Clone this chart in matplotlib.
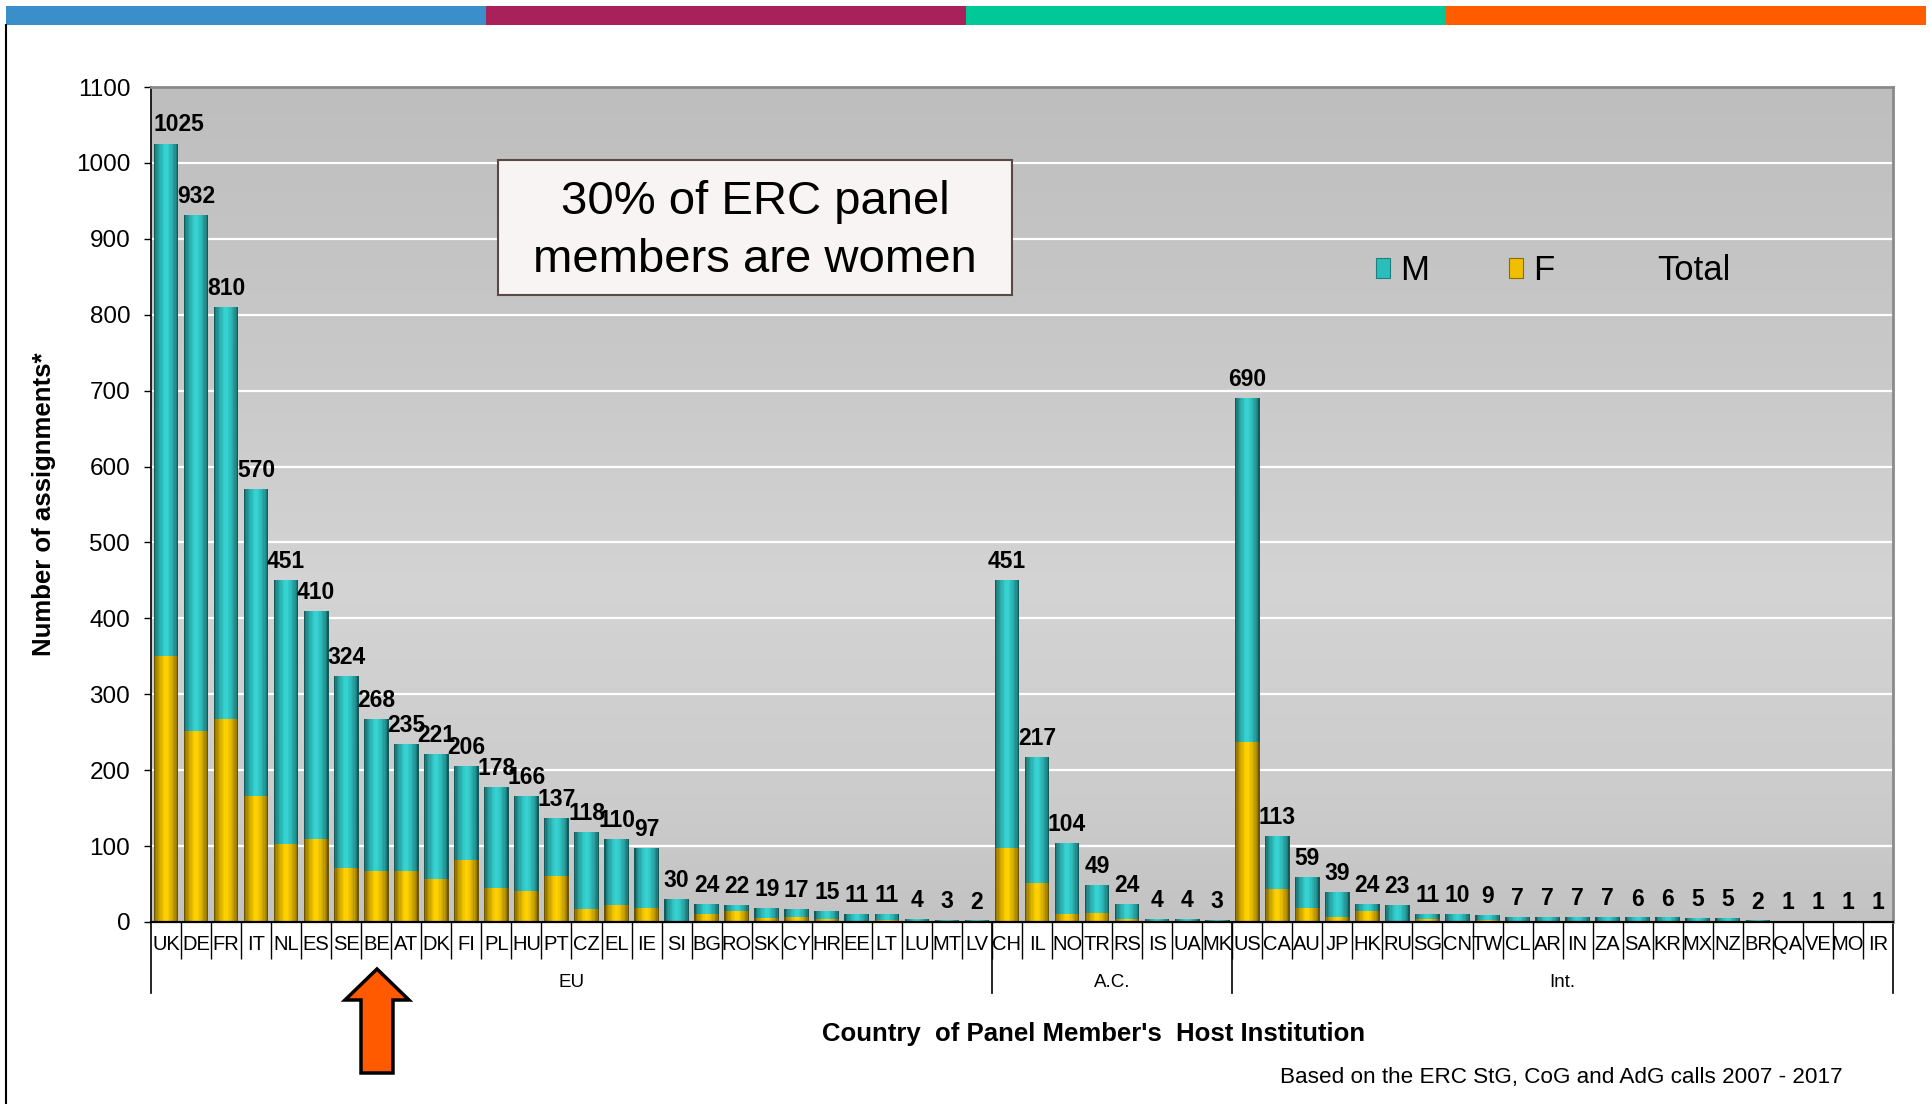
import numpy as np
import matplotlib
matplotlib.use("Agg")
import matplotlib.pyplot as plt
from matplotlib.patches import Rectangle, Polygon, Patch
from matplotlib.lines import Line2D
from matplotlib.colors import to_rgb
import matplotlib.transforms as mtransforms

# ---------------- data ----------------
countries = ["UK", "DE", "FR", "IT", "NL", "ES", "SE", "BE", "AT", "DK", "FI", "PL", "HU", "PT",
             "CZ", "EL", "IE", "SI", "BG", "RO", "SK", "CY", "HR", "EE", "LT", "LU", "MT", "LV",
             "CH", "IL", "NO", "TR", "RS", "IS", "UA", "MK",
             "US", "CA", "AU", "JP", "HK", "RU", "SG", "CN", "TW", "CL", "AR", "IN", "ZA", "SA",
             "KR", "MX", "NZ", "BR", "QA", "VE", "MO", "IR"]
groups = ["EU", "A.C.", "Int."]
group_sizes = [28, 8, 22]
totals = [1025, 932, 810, 570, 451, 410, 324, 268, 235, 221, 206, 178, 166, 137,
          118, 110, 97, 30, 24, 22, 19, 17, 15, 11, 11, 4, 3, 2,
          451, 217, 104, 49, 24, 4, 4, 3,
          690, 113, 59, 39, 24, 23, 11, 10, 9, 7, 7, 7, 7, 6,
          6, 5, 5, 2, 1, 1, 1, 1]
female = [351, 251, 267, 166, 103, 110, 71, 67, 67, 57, 82, 45, 41, 60,
          17, 23, 18, 0, 11, 14, 5, 7, 4, 0, 2, 0, 1, 0,
          97, 52, 11, 12, 4, 0, 1, 0,
          237, 43, 18, 6, 14, 1, 4, 0, 2, 0, 1, 1, 0, 0,
          1, 1, 1, 0, 0, 0, 0, 0]
male = [t - f for t, f in zip(totals, female)]
yticks = list(range(0, 1101, 100))

# ---------------- style ----------------
plt.rcParams["font.family"] = ["Liberation Sans", "DejaVu Sans"]
W, H = 1930, 1104
fig = plt.figure(figsize=(W / 100, H / 100), dpi=100)
fig.patch.set_facecolor("white")

def fx(px):
    return px / W

def fy(py):
    return 1 - py / H

ax_l, ax_r, ax_t, ax_b = 151, 1893, 87, 922
ax = fig.add_axes([fx(ax_l), fy(ax_b), (ax_r - ax_l) / W, (ax_b - ax_t) / H])

# background gradient
stops = np.array([0.0, 0.35, 0.6, 0.85, 1.0])
vals = np.array([0.745, 0.79, 0.83, 0.80, 0.765])
t = np.linspace(0, 1, 256)
g = np.interp(t, stops, vals)
img = np.repeat(g[:, None], 2, axis=1)
img = np.dstack([img, img, img])
ax.imshow(img, extent=[0, 1, 0, 1], transform=ax.transAxes, aspect="auto",
          zorder=-2, interpolation="bilinear")

x = np.arange(len(countries))
bw = 0.82

def shaded_bars(xpos, heights, bottoms, dark, light, n=9):
    dark = np.array(to_rgb(dark))
    light = np.array(to_rgb(light))
    for k in range(n):
        frac = k / (n - 1)
        w = bw * (1 - 0.85 * frac)
        c = dark + (light - dark) * (frac ** 0.6)
        ax.bar(xpos, heights, width=w, bottom=bottoms, color=c, linewidth=0, zorder=2 + k * 0.01)

shaded_bars(x, female, 0, "#6e5600", "#ffd000")
shaded_bars(x, male, female, "#135a5a", "#36d2d2")

for i, tv in enumerate(totals):
    if i == 0:
        ax.annotate(str(tv), (i - bw / 2, tv), xytext=(0, 6), textcoords="offset points",
                    ha="left", va="bottom", fontsize=16.5, fontweight="bold", zorder=6)
    else:
        ax.annotate(str(tv), (i, tv), xytext=(0, 5), textcoords="offset points",
                    ha="center", va="bottom", fontsize=16.5, fontweight="bold", zorder=6)

ax.set_xlim(-0.5, len(countries) - 0.5)
ax.set_ylim(0, 1100)
ax.set_yticks(yticks)
ax.yaxis.grid(True, color="white", linewidth=1.6)
ax.set_axisbelow(True)

ax.set_xticks(x)
ax.set_xticklabels(countries)
ax.set_xticks(np.arange(0.5, len(countries) - 1, 1), minor=True)
ax.tick_params(axis="x", which="major", length=0, labelsize=14.5, pad=9)
ax.tick_params(axis="x", which="minor", length=26.5, width=1, color="black", direction="out")
ax.tick_params(axis="y", which="major", length=5, width=1, color="black", direction="out",
               labelsize=17.5, pad=10)

for s in ["top", "right"]:
    ax.spines[s].set_color("#8a8a8a")
    ax.spines[s].set_linewidth(2)
ax.spines["left"].set_color("black")
ax.spines["left"].set_linewidth(1.2)
ax.spines["bottom"].set_color("black")
ax.spines["bottom"].set_linewidth(1.6)

# group separators and labels
trans = mtransforms.blended_transform_factory(ax.transData, ax.transAxes)
bounds = np.concatenate([[0], np.cumsum(group_sizes)]) - 0.5
for b in bounds:
    ax.add_line(Line2D([b, b], [0, -0.085], transform=trans, color="black", lw=1.2, clip_on=False))
for gi, name in enumerate(groups):
    c = (bounds[gi] + bounds[gi + 1]) / 2
    ax.text(c, -0.072, name, transform=trans, ha="center", va="center", fontsize=13.5)

ax.set_ylabel("Number of assignments*", fontsize=18.5, fontweight="bold")
ax.yaxis.set_label_coords((56 - ax_l) / (ax_r - ax_l), 0.5)

ax.set_xlabel("Country  of Panel Member's  Host Institution", fontsize=18.5, fontweight="bold")
ax.xaxis.set_label_coords((1094 - ax_l) / (ax_r - ax_l), -(1034 - ax_b) / (ax_b - ax_t))
ax.xaxis.label.set_va("center")

# legend
handles = [Patch(facecolor="#2bbcbc", edgecolor="#1d7f7f", lw=0.8),
           Patch(facecolor="#f0c000", edgecolor="#8a6d00", lw=0.8),
           Patch(facecolor="none", edgecolor="none")]
fig.legend(handles, ["M", "F", "Total"], ncol=3, frameon=False, fontsize=25,
           handlelength=0.42, handleheight=0.5, handletextpad=0.27, columnspacing=2.3,
           loc="center left", bbox_to_anchor=(fx(1362), fy(271)), borderaxespad=0,
           borderpad=0.4)

# annotation box
fig.add_artist(Rectangle((fx(498), fy(295)), (1012 - 498) / W, (295 - 160) / H,
                         transform=fig.transFigure, facecolor="#f8f4f3", edgecolor="#5a4846",
                         linewidth=1.5, zorder=5))
fig.text(fx(755), fy(231), "30% of ERC panel\nmembers are women", ha="center", va="center",
         fontsize=34, linespacing=1.4, zorder=6)

# footnote
fig.text(fx(1280), fy(1078), "Based on the ERC StG, CoG and AdG calls 2007 - 2017",
         ha="left", va="center", fontsize=16.2)

# top colour bar
bar_cols = ["#3a8fcb", "#a8215a", "#00c896", "#ff5c00"]
edges = [6, 486, 966, 1446, 1926]
for i, c in enumerate(bar_cols):
    fig.add_artist(Rectangle((fx(edges[i]), fy(25)), (edges[i + 1] - edges[i]) / W, 19 / H,
                             transform=fig.transFigure, facecolor=c, edgecolor="none", zorder=5))

# left border line
fig.add_artist(Line2D([fx(6), fx(6)], [fy(25), fy(1104)], transform=fig.transFigure,
                      color="black", lw=1.5, zorder=5))

# orange arrow
pts = [(377, 969), (409, 1000), (393, 1000), (393, 1073), (361, 1073), (361, 1000), (345, 1000)]
fig.add_artist(Polygon([(fx(a), fy(b)) for a, b in pts], closed=True, transform=fig.transFigure,
                       facecolor="#ff5a00", edgecolor="black", linewidth=2.5, joinstyle="miter",
                       zorder=5))

fig.savefig("out.png", dpi=100)
